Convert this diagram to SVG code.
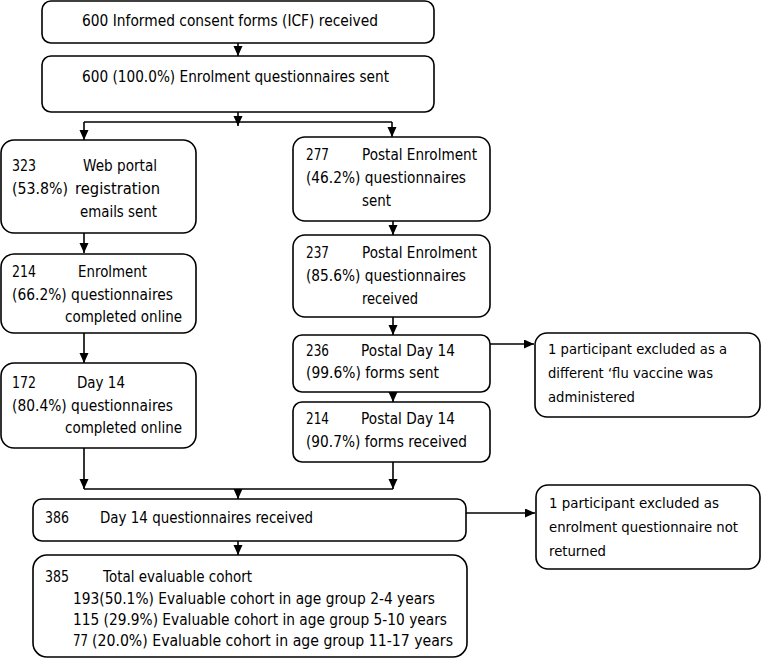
<svg xmlns="http://www.w3.org/2000/svg" width="761" height="659" viewBox="0 0 761 659">
<defs>
<marker id="ah" markerUnits="userSpaceOnUse" markerWidth="10" markerHeight="10" refX="10" refY="4.5" orient="auto">
<path d="M0,0 L10,4.5 L0,9 z" fill="#000"/>
</marker>
<style>
.box{fill:#fff;stroke:#000;stroke-width:1.6}
text{font-family:"DejaVu Sans","Liberation Sans",sans-serif;font-size:15.5px;fill:#000}
.sm{font-size:15px}
.xs{font-size:14px}
.ln{fill:none;stroke:#000;stroke-width:1.6}
.ar{fill:none;stroke:#000;stroke-width:1.6;marker-end:url(#ah)}
</style>
</defs>
<rect width="761" height="659" fill="#fff"/>

<g id="connectors">
<line class="ar" x1="238" y1="43" x2="238" y2="56"/>
<line class="ar" x1="238" y1="112" x2="238" y2="126"/>
<line class="ln" x1="84" y1="122" x2="392" y2="122"/>
<line class="ar" x1="84" y1="122" x2="84" y2="140"/>
<line class="ar" x1="392" y1="122" x2="392" y2="137"/>
<line class="ar" x1="84" y1="233" x2="84" y2="253"/>
<line class="ar" x1="84" y1="333" x2="84" y2="363"/>
<line class="ar" x1="84" y1="448" x2="84" y2="489"/>
<line class="ar" x1="393" y1="221" x2="393" y2="235"/>
<line class="ar" x1="393" y1="317" x2="393" y2="335"/>
<line class="ar" x1="393" y1="392" x2="393" y2="402"/>
<line class="ar" x1="393" y1="462" x2="393" y2="489"/>
<line class="ln" x1="84" y1="489" x2="393" y2="489"/>
<line class="ar" x1="238" y1="489" x2="238" y2="499"/>
<line class="ar" x1="238" y1="541" x2="238" y2="555"/>
<line class="ar" x1="490" y1="344" x2="534" y2="344"/>
<line class="ar" x1="466" y1="513" x2="535" y2="513"/>
</g>

<g id="n1">
<rect class="box" x="42" y="1" width="392" height="42" rx="9"/>
<text x="82" y="26" textLength="296" lengthAdjust="spacingAndGlyphs">600 Informed consent forms (ICF) received</text>
</g>

<g id="n2">
<rect class="box" x="42" y="56" width="392" height="56" rx="9"/>
<text x="82" y="82" textLength="307" lengthAdjust="spacingAndGlyphs">600 (100.0%) Enrolment questionnaires sent</text>
</g>

<g id="nA">
<rect class="box" x="1" y="140" width="195" height="93" rx="13"/>
<text x="12" y="171" textLength="24" lengthAdjust="spacingAndGlyphs">323</text>
<text x="83" y="171" textLength="74" lengthAdjust="spacingAndGlyphs">Web portal</text>
<text x="12" y="194" textLength="56" lengthAdjust="spacingAndGlyphs">(53.8%)</text>
<text x="75" y="194" textLength="85" lengthAdjust="spacingAndGlyphs">registration</text>
<text x="80" y="217" textLength="77" lengthAdjust="spacingAndGlyphs">emails sent</text>
</g>

<g id="nB">
<rect class="box" x="1" y="254" width="195" height="79" rx="13"/>
<text x="12" y="277" textLength="24" lengthAdjust="spacingAndGlyphs">214</text>
<text x="78" y="277" textLength="69" lengthAdjust="spacingAndGlyphs">Enrolment</text>
<text x="12" y="300" textLength="161" lengthAdjust="spacingAndGlyphs">(66.2%) questionnaires</text>
<text x="65" y="322" textLength="117" lengthAdjust="spacingAndGlyphs">completed online</text>
</g>

<g id="nC">
<rect class="box" x="1" y="363" width="195" height="85" rx="13"/>
<text x="12" y="388" textLength="24" lengthAdjust="spacingAndGlyphs">172</text>
<text x="77" y="388" textLength="48" lengthAdjust="spacingAndGlyphs">Day 14</text>
<text x="12" y="411" textLength="161" lengthAdjust="spacingAndGlyphs">(80.4%) questionnaires</text>
<text x="65" y="433" textLength="117" lengthAdjust="spacingAndGlyphs">completed online</text>
</g>

<g id="n277">
<rect class="box" x="293" y="137" width="197" height="84" rx="12"/>
<text x="306" y="160" textLength="23" lengthAdjust="spacingAndGlyphs">277</text>
<text x="362" y="160" textLength="115" lengthAdjust="spacingAndGlyphs">Postal Enrolment</text>
<text x="306" y="183" textLength="160" lengthAdjust="spacingAndGlyphs">(46.2%) questionnaires</text>
<text x="362" y="206" textLength="29" lengthAdjust="spacingAndGlyphs">sent</text>
</g>

<g id="n237">
<rect class="box" x="293" y="235" width="197" height="82" rx="12"/>
<text x="306" y="258" textLength="23" lengthAdjust="spacingAndGlyphs">237</text>
<text x="362" y="258" textLength="115" lengthAdjust="spacingAndGlyphs">Postal Enrolment</text>
<text x="306" y="281" textLength="160" lengthAdjust="spacingAndGlyphs">(85.6%) questionnaires</text>
<text x="362" y="304" textLength="56" lengthAdjust="spacingAndGlyphs">received</text>
</g>

<g id="n236">
<rect class="box" x="293" y="335" width="197" height="57" rx="9"/>
<text x="306" y="356" textLength="23" lengthAdjust="spacingAndGlyphs">236</text>
<text x="361" y="356" textLength="94" lengthAdjust="spacingAndGlyphs">Postal Day 14</text>
<text x="306" y="378" textLength="133" lengthAdjust="spacingAndGlyphs">(99.6%) forms sent</text>
</g>

<g id="n214p">
<rect class="box" x="293" y="402" width="197" height="60" rx="9"/>
<text x="306" y="424" textLength="23" lengthAdjust="spacingAndGlyphs">214</text>
<text x="361" y="424" textLength="94" lengthAdjust="spacingAndGlyphs">Postal Day 14</text>
<text x="306" y="447" textLength="161" lengthAdjust="spacingAndGlyphs">(90.7%) forms received</text>
</g>

<g id="nG">
<rect class="box" x="535" y="333" width="225" height="84" rx="12"/>
<text class="xs" x="548" y="354" textLength="179" lengthAdjust="spacingAndGlyphs">1 participant excluded as a</text>
<text class="xs" x="548" y="378" textLength="165" lengthAdjust="spacingAndGlyphs">different ‘flu vaccine was</text>
<text class="xs" x="548" y="402" textLength="87" lengthAdjust="spacingAndGlyphs">administered</text>
</g>

<g id="nD">
<rect class="box" x="33" y="499" width="433" height="42" rx="9"/>
<text x="45" y="523" textLength="24" lengthAdjust="spacingAndGlyphs">386</text>
<text x="100" y="523" textLength="213" lengthAdjust="spacingAndGlyphs">Day 14 questionnaires received</text>
</g>

<g id="nF">
<rect class="box" x="536" y="485" width="224" height="84" rx="12"/>
<text class="xs" x="549" y="508" textLength="170" lengthAdjust="spacingAndGlyphs">1 participant excluded as</text>
<text class="xs" x="549" y="532" textLength="189" lengthAdjust="spacingAndGlyphs">enrolment questionnaire not</text>
<text class="xs" x="549" y="556" textLength="57" lengthAdjust="spacingAndGlyphs">returned</text>
</g>

<g id="nE">
<rect class="box" x="33" y="555" width="434" height="102" rx="14"/>
<text class="sm" x="45" y="582" textLength="24" lengthAdjust="spacingAndGlyphs">385</text>
<text class="sm" x="103" y="582" textLength="149" lengthAdjust="spacingAndGlyphs">Total evaluable cohort</text>
<text class="sm" x="73" y="604" textLength="362" lengthAdjust="spacingAndGlyphs">193(50.1%) Evaluable cohort in age group 2-4 years</text>
<text class="sm" x="73" y="625" textLength="374" lengthAdjust="spacingAndGlyphs">115 (29.9%) Evaluable cohort in age group 5-10 years</text>
<text class="sm" x="73" y="646" textLength="15" lengthAdjust="spacingAndGlyphs">77</text>
<text class="sm" x="92" y="646" textLength="361" lengthAdjust="spacingAndGlyphs">(20.0%) Evaluable cohort in age group 11-17 years</text>
</g>
</svg>
